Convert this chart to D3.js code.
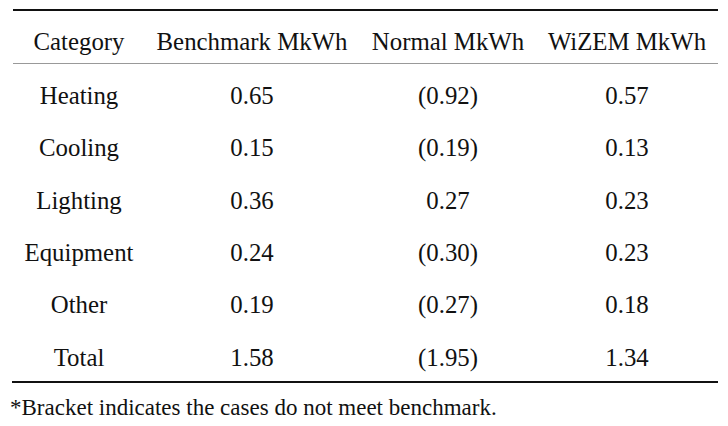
<!DOCTYPE html>
<html>
<head>
<meta charset="utf-8">
<script src="https://d3js.org/d3.v7.min.js"></script>
<style>
body { margin: 0; background: #fff; }
</style>
</head>
<body>
<div id="container"></div>
<script>
var columns = ["Category", "Benchmark MkWh", "Normal MkWh", "WiZEM MkWh"];
var categories = ["Heating", "Cooling", "Lighting", "Equipment", "Other", "Total"];
var benchmark = ["0.65", "0.15", "0.36", "0.24", "0.19", "1.58"];
var normal = ["(0.92)", "(0.19)", "0.27", "(0.30)", "(0.27)", "(1.95)"];
var wizem = ["0.57", "0.13", "0.23", "0.23", "0.18", "1.34"];
var footnote = "*Bracket indicates the cases do not meet benchmark.";

var width = 728,
	height = 426;

// pick the first serif face that is really installed
var ctx = document.createElement("canvas").getContext("2d");
function textWidth(txt, family, size){
	ctx.font = size + "px " + family;
	return ctx.measureText(txt).width;
}
var probe = "Benchmark MkWh iiWW 0123";
var candidates = ["Liberation Serif", "Times New Roman", "Tinos", "Nimbus Roman", "FreeSerif", "DejaVu Serif", "Noto Serif", "serif"];
var family = "serif";
for (var i = 0; i < candidates.length; i++) {
	var f = "'" + candidates[i] + "'";
	if (candidates[i] == "serif") { family = "serif"; break; }
	if (textWidth(probe, f + ", monospace", 40) != textWidth(probe, "monospace", 40)) {
		family = f + ", serif";
		break;
	}
}
// size the text so it matches the reference widths
var fontSize = 22 * 191 / textWidth("Benchmark MkWh", family, 22);
var noteSize = 22 * 487 / textWidth(footnote, family, 22);

var rows = categories.map(function(c, i){
	return [c, benchmark[i], normal[i], wizem[i]];
});

// column centres
var xCenters = [79, 252, 448, 627];

var yScale = d3.scaleLinear()
	.domain([0, categories.length - 1])
	.range([95, 357]);

var svg = d3.select("#container")
	.append('svg')
		.attr("width", width)
		.attr("height", height)
		.style("font-family", family)
		.style("font-size", fontSize + "px")
		.style("fill", "#111");

svg.append("line")
	.attr("x1", 13).attr("x2", 718)
	.attr("y1", 10).attr("y2", 10)
	.attr("stroke", "#111").attr("stroke-width", 2);

svg.append("line")
	.attr("x1", 13).attr("x2", 718)
	.attr("y1", 63.5).attr("y2", 63.5)
	.attr("stroke", "#999").attr("stroke-width", 1);

svg.append("line")
	.attr("x1", 12).attr("x2", 718)
	.attr("y1", 382).attr("y2", 382)
	.attr("stroke", "#111").attr("stroke-width", 2);

svg.selectAll("text.head")
	.data(columns)
	.enter().append("text")
	.attr("class", "head")
	.attr("x", function(d, i){ return xCenters[i]; })
	.attr("y", 41)
	.attr("dy", "0.35em")
	.attr("text-anchor", "middle")
	.text(function(d){ return d; });

svg.selectAll("g.row")
	.data(rows)
	.enter().append("g")
	.attr("class", "row")
	.attr("transform", function(d, i){ return "translate(0," + yScale(i) + ")"; })
	.selectAll("text")
		.data(function(d){ return d; })
		.enter().append("text")
		.attr("x", function(d, i){ return xCenters[i]; })
		.attr("dy", "0.35em")
		.attr("text-anchor", "middle")
		.text(function(d){ return d; });

svg.append("text")
	.attr("x", 10)
	.attr("y", 407)
	.attr("dy", "0.35em")
	.style("font-size", noteSize + "px")
	.text(footnote);
</script>
</body>
</html>
